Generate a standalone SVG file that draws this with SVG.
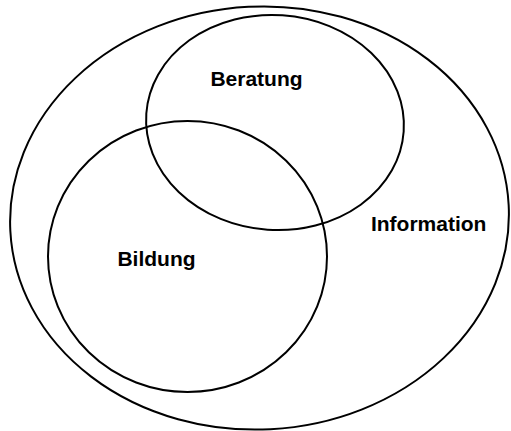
<svg xmlns="http://www.w3.org/2000/svg" width="511" height="431" viewBox="0 0 511 431">
<style>
.s{fill:none;stroke:#000;stroke-width:2}
.t{font-family:"Liberation Sans",Arial,sans-serif;font-weight:bold;font-size:21px;fill:#000;text-anchor:middle}
</style>
<rect width="511" height="431" fill="#fff"/>
<g id="information">
<ellipse class="s" cx="259.5" cy="218" rx="249.5" ry="211.5" transform="rotate(-3 259.5 218)"/>
<text class="t" x="428.7" y="230.5">Information</text>
</g>
<g id="beratung">
<ellipse class="s" cx="275" cy="122.5" rx="129" ry="107.5" transform="rotate(4 275 122.5)"/>
<text class="t" x="256.5" y="86">Beratung</text>
</g>
<g id="bildung">
<ellipse class="s" cx="187.5" cy="256.5" rx="139.5" ry="135.5"/>
<text class="t" x="156.5" y="265.5">Bildung</text>
</g>
<g id="connectors"/>
</svg>
